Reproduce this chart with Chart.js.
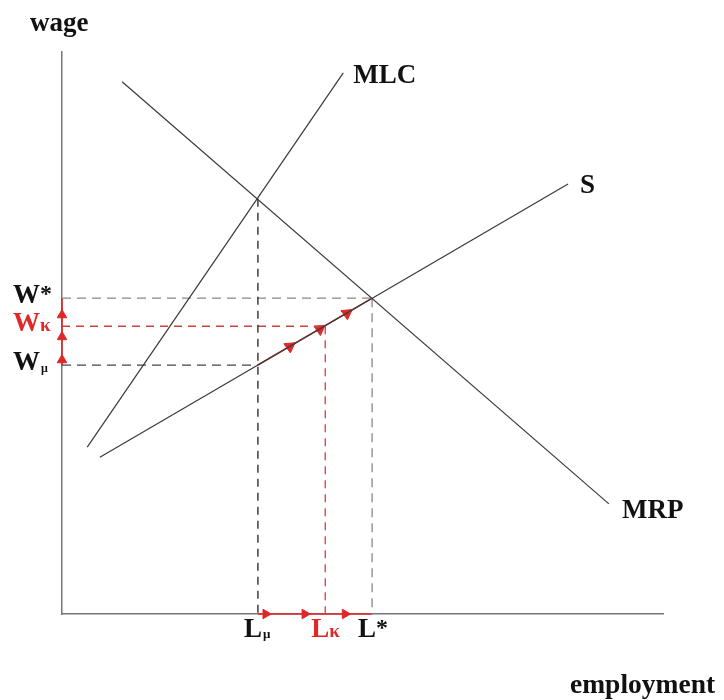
<!DOCTYPE html>
<html>
<head>
<meta charset="utf-8">
<script src="https://cdn.jsdelivr.net/npm/chart.js@4.4.1/dist/chart.umd.min.js"></script>
<style>
html,body{margin:0;padding:0;background:#fff;}
canvas{display:block;}
</style>
</head>
<body>
<canvas id="c" width="724" height="700"></canvas>
<script>
// Curves (employment, wage)
const mlcCurve = [{x:4.2,y:29.7},{x:46.8,y:96.3}];
const sCurve   = [{x:6.3,y:27.9},{x:84.2,y:76.5}];
const mrpCurve = [{x:10.0,y:94.7},{x:91.0,y:19.6}];

// Key levels
const Lmu = 32.6, Lk = 43.8, Lstar = 51.6;
const Wmu = 44.3, Wk = 51.2, Wstar = 56.2, Wmlc = 73.9;

// Arrow markers
const sArrowL = [37.9, 42.9, 47.4];
const sArrowW = [47.6, 50.7, 53.5];
const yArrowW = [45.2, 49.3, 53.2];
const xArrowL = [33.9, 40.4, 47.1];

const tickLabelsY = [{t:'W',s:'*',v:Wstar,red:false},{t:'W',s:'κ',v:Wk,red:true},{t:'W',s:'μ',v:Wmu,red:false}];
const tickLabelsX = [{t:'L',s:'μ',v:Lmu,red:false},{t:'L',s:'κ',v:Lk,red:true},{t:'L',s:'*',v:Lstar,red:false}];

const CURVE = '#3a3a3a';
const RED = '#e02828';
const DARKRED = '#b03535';

function line(data, color, width, dash) {
  return {data, showLine:true, borderColor:color, borderWidth:width, borderDash:dash||[], pointRadius:0, pointHoverRadius:0, clip:false, fill:false, tension:0};
}
function arrows(xs, ys, rot, r) {
  return {data: xs.map((x,i)=>({x, y: ys[i]})), showLine:false, pointStyle:'triangle', pointRadius:r, pointRotation:rot, backgroundColor:RED, borderColor:RED, borderWidth:1, clip:false};
}

const labelPlugin = {
  id:'labels',
  afterDraw(chart){
    const ctx = chart.ctx, xs = chart.scales.x, ys = chart.scales.y;
    const F = '"Liberation Serif", "DejaVu Serif", serif';
    ctx.save();
    ctx.textBaseline = 'alphabetic';
    function txt(s, x, y, size, color, align){
      ctx.font = 'bold ' + size + 'px ' + F;
      ctx.fillStyle = color; ctx.textAlign = align || 'left';
      ctx.fillText(s, x, y);
      return ctx.measureText(s).width;
    }
    // axis titles
    txt('wage', xs.left - 32, ys.top - 21, 27, '#111');
    txt('employment', 570, 693, 27.5, '#111');
    // curve labels
    const mlcEnd = mlcCurve[1], sEnd = sCurve[1], mrpEnd = mrpCurve[1];
    txt('MLC', xs.getPixelForValue(mlcEnd.x) + 10, ys.getPixelForValue(mlcEnd.y) + 10, 27, '#111');
    txt('S', xs.getPixelForValue(sEnd.x) + 12, ys.getPixelForValue(sEnd.y) + 9, 27, '#111');
    txt('MRP', xs.getPixelForValue(mrpEnd.x) + 13, ys.getPixelForValue(mrpEnd.y) + 14, 27, '#111');
    // y labels
    tickLabelsY.forEach(l=>{
      const py = ys.getPixelForValue(l.v) + 5;
      const col = l.red ? RED : '#111';
      const w = txt(l.t, 13, py, 27, col);
      if (l.s === '*') txt('*', 13 + w, py - 2, 24, col);
      else if (l.s === 'κ') txt('κ', 13 + w, py, 19, col);
      else txt('μ', 13 + w + 1, py + 2, 12, col);
    });
    // x labels
    tickLabelsX.forEach(l=>{
      const px = xs.getPixelForValue(l.v);
      const col = l.red ? RED : '#111';
      const py = 637;
      const x0 = px - 14;
      const w = txt(l.t, x0, py, 27, col);
      if (l.s === '*') txt('*', x0 + w, py - 2, 24, col);
      else if (l.s === 'κ') txt('κ', x0 + w, py, 19, col);
      else txt('μ', x0 + w + 1, py + 1, 13, col);
    });
    ctx.restore();
  }
};

new Chart(document.getElementById('c'), {
  type:'scatter',
  data:{datasets:[
    line(mlcCurve, CURVE, 1.2),
    line(sCurve, CURVE, 1.2),
    line(mrpCurve, CURVE, 1.2),
    line([{x:Lmu,y:Wmlc},{x:Lmu,y:0}], '#222', 1.3, [8,6]),
    line([{x:0,y:Wmu},{x:Lmu,y:Wmu}], '#444', 1.3, [9,6]),
    line([{x:0,y:Wstar},{x:Lstar,y:Wstar}], '#888', 1.3, [9,6]),
    line([{x:Lstar,y:Wstar},{x:Lstar,y:0}], '#888', 1.3, [9,6]),
    line([{x:0,y:Wk},{x:Lk,y:Wk}], '#d04040', 1.3, [8,6]),
    line([{x:Lk,y:Wk},{x:Lk,y:0}], '#d04040', 1.3, [8,6]),
    line([{x:Lmu,y:Wmu},{x:Lstar,y:Wstar}], DARKRED, 1.6),
    line([{x:0,y:Wmu},{x:0,y:Wstar}], RED, 1.6),
    line([{x:Lmu,y:0},{x:Lstar,y:0}], RED, 1.6),
    arrows(sArrowL, sArrowW, 175, 6.5),
    arrows(yArrowW.map(()=>0), yArrowW, 0, 5.5),
    arrows(xArrowL, xArrowL.map(()=>0), 90, 5.5)
  ]},
  options:{
    responsive:false,
    animation:false,
    layout:{padding:{left:62, right:61, top:52, bottom:86}},
    plugins:{legend:{display:false}, tooltip:{enabled:false}},
    scales:{
      x:{type:'linear', min:0, max:100, ticks:{display:false}, grid:{display:false, drawTicks:false}, border:{display:true, color:'#777', width:1.5}},
      y:{type:'linear', min:0, max:100, ticks:{display:false}, grid:{display:false, drawTicks:false}, border:{display:true, color:'#777', width:1.5}}
    }
  },
  plugins:[labelPlugin]
});
</script>
</body>
</html>
